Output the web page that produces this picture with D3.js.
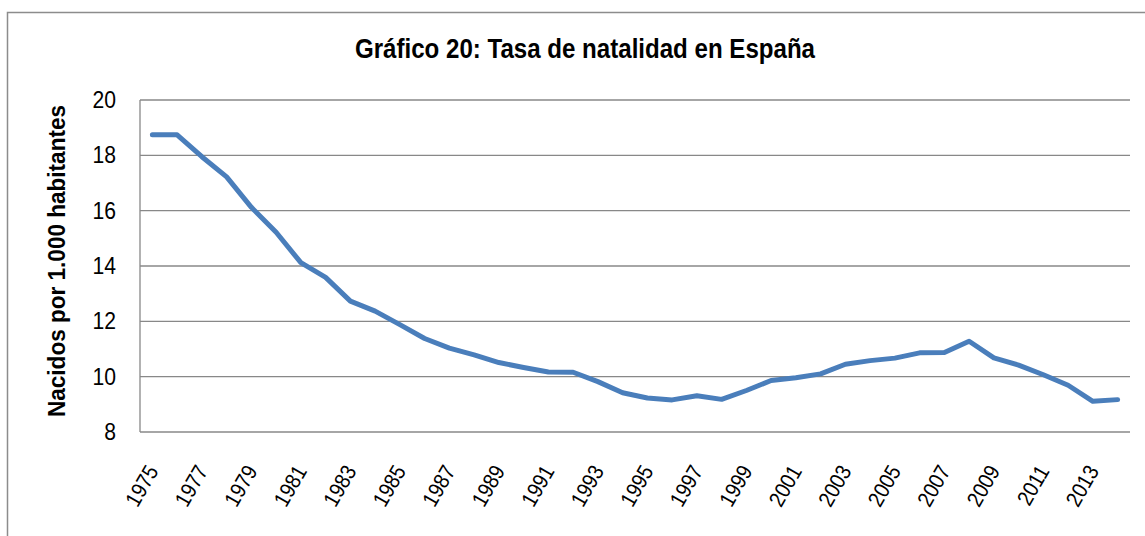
<!DOCTYPE html>
<html>
<head>
<meta charset="utf-8">
<script src="https://cdn.jsdelivr.net/npm/d3@7"></script>
<style>
  body { margin: 0; background: #fff; }
  text { font-family: "Liberation Sans Narrow", "Arial Narrow", "Liberation Sans", Arial, sans-serif; fill: #000; }
</style>
</head>
<body>
<div class="draw"></div>
<script>
// data
var years = d3.range(1975, 2015);
var natalidad = [18.74, 18.74, 17.95, 17.22, 16.12, 15.22, 14.12, 13.59, 12.73, 12.37,
                 11.88, 11.38, 11.03, 10.79, 10.51, 10.33, 10.17, 10.16, 9.82, 9.42,
                 9.23, 9.16, 9.31, 9.18, 9.50, 9.86, 9.96, 10.10, 10.45, 10.58,
                 10.67, 10.86, 10.87, 11.28, 10.68, 10.42, 10.07, 9.69, 9.11, 9.17];
var yTicks = [8, 10, 12, 14, 16, 18, 20];
var titulo = "Gráfico 20: Tasa de natalidad en España";
var yTitulo = "Nacidos por 1.000 habitantes";

var width = 1145, height = 536;
var plot = { left: 140, right: 1130, top: 100, bottom: 432 };

var svg = d3.select(".draw").append("svg")
    .attr("width", width)
    .attr("height", height);

// outer frame
svg.append("rect")
    .attr("x", 7.5).attr("y", 12.5)
    .attr("width", width + 20).attr("height", height + 20)
    .attr("fill", "none")
    .attr("stroke", "#8c8c8c")
    .attr("stroke-width", 1.5);

var x = d3.scalePoint()
    .domain(years)
    .range([plot.left, plot.right])
    .padding(0.5);

var y = d3.scaleLinear()
    .domain([8, 20])
    .range([plot.bottom, plot.top]);

// gridlines
svg.append("g")
    .selectAll("line")
    .data(yTicks)
    .enter().append("line")
    .attr("x1", plot.left)
    .attr("x2", plot.right)
    .attr("y1", function (d) { return y(d); })
    .attr("y2", function (d) { return y(d); })
    .attr("stroke", "#888")
    .attr("stroke-width", 1.3);

// y axis line
svg.append("line")
    .attr("x1", plot.left).attr("x2", plot.left)
    .attr("y1", plot.top).attr("y2", plot.bottom)
    .attr("stroke", "#888")
    .attr("stroke-width", 1.3);

// y tick labels
svg.append("g")
    .selectAll("text")
    .data(yTicks)
    .enter().append("text")
    .attr("transform", function (d) { return "translate(116," + y(d) + ") scale(0.92,1)"; })
    .attr("dy", "0.35em")
    .attr("text-anchor", "end")
    .style("font-size", "23px")
    .text(function (d) { return d; });

// x tick labels (every other year)
svg.append("g")
    .selectAll("text")
    .data(years.filter(function (d, i) { return i % 2 == 0; }))
    .enter().append("text")
    .attr("transform", function (d) { return "translate(" + x(d) + ",467) rotate(-60) scale(0.88,1)"; })
    .attr("text-anchor", "end")
    .attr("dy", "0.35em")
    .style("font-size", "22px")
    .text(function (d) { return d; });

// line
var line = d3.line()
    .x(function (d, i) { return x(years[i]); })
    .y(function (d) { return y(d); });

svg.append("path")
    .datum(natalidad)
    .attr("d", line)
    .attr("fill", "none")
    .attr("stroke", "#4a7ebb")
    .attr("stroke-width", 5)
    .attr("stroke-linejoin", "round")
    .attr("stroke-linecap", "round");

// titles
svg.append("text")
    .attr("x", 355)
    .attr("y", 58)
    .attr("textLength", 460)
    .attr("lengthAdjust", "spacingAndGlyphs")
    .style("font-size", "28px")
    .style("font-weight", "bold")
    .text(titulo);

svg.append("text")
    .attr("transform", "translate(65,417) rotate(-90)")
    .attr("textLength", 312)
    .attr("lengthAdjust", "spacingAndGlyphs")
    .style("font-size", "23px")
    .style("font-weight", "bold")
    .text(yTitulo);
</script>
</body>
</html>
